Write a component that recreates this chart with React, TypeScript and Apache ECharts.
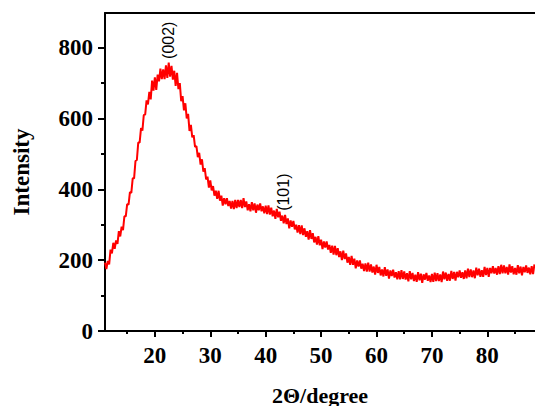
import React, { useEffect, useRef } from "react";
import * as echarts from "echarts";

const angles = [
  11, 11.25, 11.5, 11.75, 12, 12.25, 12.5, 12.75,
  13, 13.25, 13.5, 13.75, 14, 14.25, 14.5, 14.75,
  15, 15.25, 15.5, 15.75, 16, 16.25, 16.5, 16.75,
  17, 17.25, 17.5, 17.75, 18, 18.25, 18.5, 18.75,
  19, 19.25, 19.5, 19.75, 20, 20.25, 20.5, 20.75,
  21, 21.25, 21.5, 21.75, 22, 22.25, 22.5, 22.75,
  23, 23.25, 23.5, 23.75, 24, 24.25, 24.5, 24.75,
  25, 25.25, 25.5, 25.75, 26, 26.25, 26.5, 26.75,
  27, 27.25, 27.5, 27.75, 28, 28.25, 28.5, 28.75,
  29, 29.25, 29.5, 29.75, 30, 30.25, 30.5, 30.75,
  31, 31.25, 31.5, 31.75, 32, 32.25, 32.5, 32.75,
  33, 33.25, 33.5, 33.75, 34, 34.25, 34.5, 34.75,
  35, 35.25, 35.5, 35.75, 36, 36.25, 36.5, 36.75,
  37, 37.25, 37.5, 37.75, 38, 38.25, 38.5, 38.75,
  39, 39.25, 39.5, 39.75, 40, 40.25, 40.5, 40.75,
  41, 41.25, 41.5, 41.75, 42, 42.25, 42.5, 42.75,
  43, 43.25, 43.5, 43.75, 44, 44.25, 44.5, 44.75,
  45, 45.25, 45.5, 45.75, 46, 46.25, 46.5, 46.75,
  47, 47.25, 47.5, 47.75, 48, 48.25, 48.5, 48.75,
  49, 49.25, 49.5, 49.75, 50, 50.25, 50.5, 50.75,
  51, 51.25, 51.5, 51.75, 52, 52.25, 52.5, 52.75,
  53, 53.25, 53.5, 53.75, 54, 54.25, 54.5, 54.75,
  55, 55.25, 55.5, 55.75, 56, 56.25, 56.5, 56.75,
  57, 57.25, 57.5, 57.75, 58, 58.25, 58.5, 58.75,
  59, 59.25, 59.5, 59.75, 60, 60.25, 60.5, 60.75,
  61, 61.25, 61.5, 61.75, 62, 62.25, 62.5, 62.75,
  63, 63.25, 63.5, 63.75, 64, 64.25, 64.5, 64.75,
  65, 65.25, 65.5, 65.75, 66, 66.25, 66.5, 66.75,
  67, 67.25, 67.5, 67.75, 68, 68.25, 68.5, 68.75,
  69, 69.25, 69.5, 69.75, 70, 70.25, 70.5, 70.75,
  71, 71.25, 71.5, 71.75, 72, 72.25, 72.5, 72.75,
  73, 73.25, 73.5, 73.75, 74, 74.25, 74.5, 74.75,
  75, 75.25, 75.5, 75.75, 76, 76.25, 76.5, 76.75,
  77, 77.25, 77.5, 77.75, 78, 78.25, 78.5, 78.75,
  79, 79.25, 79.5, 79.75, 80, 80.25, 80.5, 80.75,
  81, 81.25, 81.5, 81.75, 82, 82.25, 82.5, 82.75,
  83, 83.25, 83.5, 83.75, 84, 84.25, 84.5, 84.75,
  85, 85.25, 85.5, 85.75, 86, 86.25, 86.5, 86.75,
  87, 87.25, 87.5, 87.75, 88, 88.25, 88.5,
];

const intensity = [
  193, 175, 198, 188, 230, 219, 249, 232,
  256, 246, 282, 267, 295, 285, 324, 324,
  358, 357, 392, 390, 431, 431, 480, 483,
  532, 532, 573, 566, 610, 611, 651, 640,
  675, 654, 707, 679, 716, 681, 724, 705,
  741, 711, 739, 711, 750, 715, 758, 718,
  749, 710, 735, 692, 729, 683, 700, 649,
  663, 623, 643, 600, 613, 565, 582, 547,
  553, 520, 522, 491, 503, 470, 485, 450,
  460, 428, 436, 405, 425, 397, 409, 382,
  396, 373, 396, 368, 382, 354, 375, 358,
  375, 353, 367, 346, 367, 344, 370, 347,
  370, 350, 370, 347, 375, 350, 366, 341,
  358, 338, 364, 341, 360, 334, 357, 341,
  360, 338, 352, 332, 354, 330, 355, 329,
  348, 324, 340, 317, 345, 321, 337, 311,
  326, 304, 328, 302, 318, 290, 312, 294,
  311, 287, 300, 278, 299, 274, 298, 271,
  290, 266, 282, 258, 285, 260, 276, 250,
  266, 244, 268, 242, 258, 231, 253, 236,
  253, 230, 243, 221, 241, 216, 240, 214,
  234, 209, 225, 200, 227, 203, 219, 193,
  209, 187, 212, 187, 204, 177, 199, 182,
  199, 176, 190, 169, 191, 168, 193, 168,
  188, 165, 182, 159, 187, 164, 181, 157,
  174, 154, 180, 156, 174, 148, 171, 155,
  173, 151, 166, 146, 169, 146, 172, 147,
  168, 145, 163, 140, 169, 146, 164, 141,
  159, 139, 166, 143, 162, 136, 160, 145,
  164, 142, 157, 138, 161, 139, 165, 141,
  163, 141, 160, 138, 168, 146, 165, 142,
  161, 142, 170, 147, 167, 142, 167, 152,
  171, 150, 166, 147, 171, 149, 176, 152,
  174, 152, 171, 149, 179, 157, 176, 153,
  172, 153, 181, 158, 178, 153, 178, 163,
  183, 162, 178, 159, 183, 161, 187, 163,
  185, 163, 181, 159, 188, 165, 183, 160,
  178, 159, 186, 163, 182, 157, 181, 166,
  185, 164, 179, 160, 183, 161, 188,
];

const xMajorTicks = [20, 30, 40, 50, 60, 70, 80];
const xMinorTicks = [15, 25, 35, 45, 55, 65, 75, 85];
const yMajorTicks = [0, 200, 400, 600, 800];
const yMinorTicks = [100, 300, 500, 700];

const peakLabels = [
  { name: "(002)", angle: 22.5, value: 821 },
  { name: "(101)", angle: 43.3, value: 392 },
];

const SERIF = "'Liberation Serif', 'Times New Roman', serif";

export default function App() {
  const ref = useRef<HTMLDivElement>(null);

  useEffect(() => {
    document.body.style.margin = "0";
    const chart = echarts.init(ref.current!, null, { renderer: "svg" });
    const data = angles.map((a, i) => [a, intensity[i]]);
    const xMin = 11;
    const xMax = 88.6;
    const yMax = 898;

    chart.setOption({
      animation: false,
      backgroundColor: "#ffffff",
      grid: {
        left: 105,
        right: 0,
        top: 13,
        bottom: 75,
        containLabel: false,
        outerBoundsMode: "none",
      },
      xAxis: [
        {
          type: "value",
          position: "bottom",
          min: xMin,
          max: xMax,
          name: "2Θ/degree",
          nameLocation: "middle",
          nameGap: 53,
          nameTextStyle: {
            fontFamily: SERIF,
            fontWeight: "bold",
            fontSize: 22,
            color: "#000",
            verticalAlign: "top",
          },
          axisLine: { show: true, lineStyle: { color: "#000", width: 2 } },
          axisTick: {
            show: true,
            customValues: xMajorTicks,
            length: 6,
            lineStyle: { color: "#000", width: 2 },
          },
          axisLabel: {
            show: true,
            customValues: xMajorTicks,
            margin: 13,
            fontFamily: SERIF,
            fontWeight: "bold",
            fontSize: 23,
            color: "#000",
          },
          splitLine: { show: false },
        },
        {
          type: "value",
          position: "bottom",
          min: xMin,
          max: xMax,
          axisLine: { show: false },
          axisTick: {
            show: true,
            customValues: xMinorTicks,
            length: 3,
            lineStyle: { color: "#000", width: 2 },
          },
          axisLabel: { show: false },
          splitLine: { show: false },
        },
        {
          type: "value",
          position: "top",
          min: xMin,
          max: xMax,
          axisLine: { show: true, lineStyle: { color: "#000", width: 2 } },
          axisTick: { show: false },
          axisLabel: { show: false },
          splitLine: { show: false },
        },
      ],
      yAxis: [
        {
          type: "value",
          position: "left",
          min: 0,
          max: yMax,
          name: "Intensity",
          nameLocation: "middle",
          nameGap: 72,
          nameTextStyle: {
            fontFamily: SERIF,
            fontWeight: "bold",
            fontSize: 23,
            color: "#000",
          },
          axisLine: { show: true, lineStyle: { color: "#000", width: 2 } },
          axisTick: {
            show: true,
            customValues: yMajorTicks,
            length: 7,
            lineStyle: { color: "#000", width: 2 },
          },
          axisLabel: {
            show: true,
            customValues: yMajorTicks,
            margin: 12,
            fontFamily: SERIF,
            fontWeight: "bold",
            fontSize: 23,
            color: "#000",
          },
          splitLine: { show: false },
        },
        {
          type: "value",
          position: "left",
          min: 0,
          max: yMax,
          axisLine: { show: false },
          axisTick: {
            show: true,
            customValues: yMinorTicks,
            length: 4,
            lineStyle: { color: "#000", width: 2 },
          },
          axisLabel: { show: false },
          splitLine: { show: false },
        },
      ],
      series: [
        {
          type: "line",
          xAxisIndex: 0,
          yAxisIndex: 0,
          data,
          showSymbol: false,
          symbol: "none",
          lineStyle: { color: "#ff0000", width: 2 },
          markPoint: {
            symbol: "circle",
            symbolSize: 0,
            silent: true,
            label: {
              show: true,
              position: "inside",
              rotate: 90,
              fontFamily: "'Liberation Sans', Arial, sans-serif",
              fontSize: 16,
              color: "#000",
              formatter: (p: any) => p.name,
            },
            data: peakLabels.map((p) => ({
              name: p.name,
              coord: [p.angle, p.value],
            })),
          },
        },
      ],
    });

    return () => chart.dispose();
  }, []);

  return (
    <div
      ref={ref}
      style={{ position: "fixed", left: 0, top: 0, width: 535, height: 406 }}
    />
  );
}
